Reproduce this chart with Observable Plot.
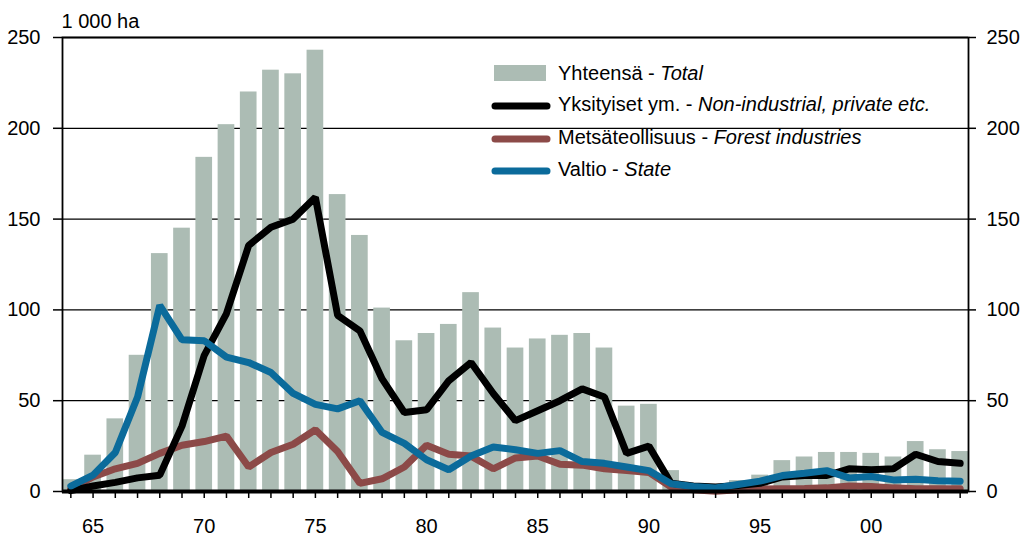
<!DOCTYPE html>
<html>
<head>
<meta charset="utf-8">
<script src="https://cdn.jsdelivr.net/npm/d3@7"></script>
<script src="https://cdn.jsdelivr.net/npm/@observablehq/plot@0.6"></script>
<style>
  body { margin: 0; background: #fff; }
  #wrap { position: relative; width: 1026px; height: 539px; font-family: "Liberation Sans", Arial, sans-serif; }
  .leg { position: absolute; left: 490px; font-size: 20px; color: #000; }
  .leg .row { position: absolute; left: 0; height: 24px; white-space: nowrap; }
  .leg .sw { position: absolute; left: 0; }
  .leg .lab { position: absolute; left: 68px; top: 0; line-height: 24px; }
</style>
</head>
<body>
<div id="wrap"></div>
<script>
const years = [1964,1965,1966,1967,1968,1969,1970,1971,1972,1973,1974,1975,1976,1977,1978,1979,1980,1981,1982,1983,1984,1985,1986,1987,1988,1989,1990,1991,1992,1993,1994,1995,1996,1997,1998,1999,2000,2001,2002,2003,2004];
const total   = [6.5,20,40,75,131,145,184,202,220,232,230,243,163.5,141,101,83,87,92,109.5,90,79,84,86,87,79,47,48,11.5,3,2.5,6,9,17,19,21.5,21.5,21,19,27.5,23,22];
const privateEtc = [0.5,3,5,7.5,9,36,75,98,135.5,145.5,150,162,97,88.5,62,43.5,45,61,71,54,39,44.5,50,56.5,52,21,25,4.5,3,2.5,3.3,4.5,8,8.8,8.8,12.5,12,12.5,20.5,16.5,15.5];
const forestInd = [1.5,8,12.5,15.5,21,25.5,27.5,30.5,13.5,21.5,26,34,22,4.5,7,13.5,25.5,20.5,19.5,12.5,18.5,19.5,15,14.5,12.5,11.5,10.5,2.5,0.9,0.2,0.9,1.3,1.5,1.7,2,3,2.8,2,1.5,1.5,1.5];
const state   = [3,9,21.5,52,102.5,83.5,83,74,71,65.5,54,48,45.5,50,32.5,26.5,17.5,12,19.5,24.5,23,21,22.5,16.5,15.5,13.5,11.5,4.3,2.8,2,3.9,5.7,8.8,10,11.5,7.5,8.3,6.4,6.8,5.9,5.7];
const yTicks = [0,50,100,150,200,250];
const unitLabel = "1 000 ha";
const legendItems = [
  {kind: "bar",  fi: "Yhteensä", en: "Total", color: "#acbcb4"},
  {kind: "line", fi: "Yksityiset ym.", en: "Non-industrial, private etc.", color: "#000000"},
  {kind: "line", fi: "Metsäteollisuus", en: "Forest industries", color: "#8c4a48"},
  {kind: "line", fi: "Valtio", en: "State", color: "#0b6b9b"}
];

const data = years.map((year, i) => ({year, total: total[i], privateEtc: privateEtc[i], forestInd: forestInd[i], state: state[i]}));

const lineOpts = {strokeWidth: 7, strokeLinejoin: "miter", strokeLinecap: "round"};

const chart = Plot.plot({
  width: 1026,
  height: 539,
  marginTop: 37,
  marginBottom: 48,
  marginLeft: 62,
  marginRight: 58,
  style: {fontFamily: "'Liberation Sans', Arial, sans-serif", fontSize: "20px", background: "white", overflow: "visible", color: "#000"},
  x: {type: "band", domain: years, paddingInner: 0.25, paddingOuter: 0, align: 0.5, round: false},
  y: {domain: [0, 250]},
  marks: [
    Plot.ruleY(yTicks.filter(d => d > 0), {stroke: "#000", strokeWidth: 1.3}),
    Plot.barY(data, {x: "year", y: "total", fill: legendItems[0].color}),
    Plot.line(data, {x: "year", y: "forestInd", stroke: legendItems[2].color, ...lineOpts}),
    Plot.line(data, {x: "year", y: "privateEtc", stroke: legendItems[1].color, ...lineOpts}),
    Plot.line(data, {x: "year", y: "state", stroke: legendItems[3].color, ...lineOpts}),
    Plot.frame({stroke: "#000", strokeWidth: 1.8}),
    Plot.ruleY([0], {stroke: "#000", strokeWidth: 4}),
    Plot.axisX({ticks: years, tickSize: 7, tickPadding: 20, tickFormat: d => d % 5 === 0 ? String(d).slice(2) : "", label: null, strokeWidth: 1.5}),
    Plot.axisY({anchor: "left", ticks: yTicks, tickSize: 9, tickPadding: 13, label: null, strokeWidth: 1.5}),
    Plot.axisY({anchor: "right", ticks: yTicks, tickSize: 7, tickPadding: 11, label: null, strokeWidth: 1.5}),
    Plot.text([unitLabel], {frameAnchor: "top-left", dy: -24, dx: -1, textAnchor: "start", fontSize: 20})
  ]
});

const wrap = document.getElementById("wrap");
wrap.appendChild(chart);

const leg = document.createElement("div");
leg.className = "leg";
leg.style.top = "0px";
const rowTops = [61, 92, 125, 157];
legendItems.forEach((it, i) => {
  const row = document.createElement("div");
  row.className = "row";
  row.style.top = rowTops[i] + "px";
  const ns = "http://www.w3.org/2000/svg";
  const sw = document.createElementNS(ns, "svg");
  sw.setAttribute("width", "64");
  sw.setAttribute("height", "24");
  sw.setAttribute("class", "sw");
  if (it.kind === "bar") {
    const r = document.createElementNS(ns, "rect");
    r.setAttribute("x", "4"); r.setAttribute("y", "4");
    r.setAttribute("width", "52"); r.setAttribute("height", "16");
    r.setAttribute("fill", it.color);
    sw.appendChild(r);
  } else {
    const l = document.createElementNS(ns, "line");
    l.setAttribute("x1", "5"); l.setAttribute("x2", "57");
    l.setAttribute("y1", "14"); l.setAttribute("y2", "14");
    l.setAttribute("stroke", it.color); l.setAttribute("stroke-width", "7");
    l.setAttribute("stroke-linecap", "round");
    sw.appendChild(l);
  }
  row.appendChild(sw);
  const lab = document.createElement("span");
  lab.className = "lab";
  lab.innerHTML = it.fi + " - <i>" + it.en + "</i>";
  row.appendChild(lab);
  leg.appendChild(row);
});
wrap.appendChild(leg);
</script>
</body>
</html>
